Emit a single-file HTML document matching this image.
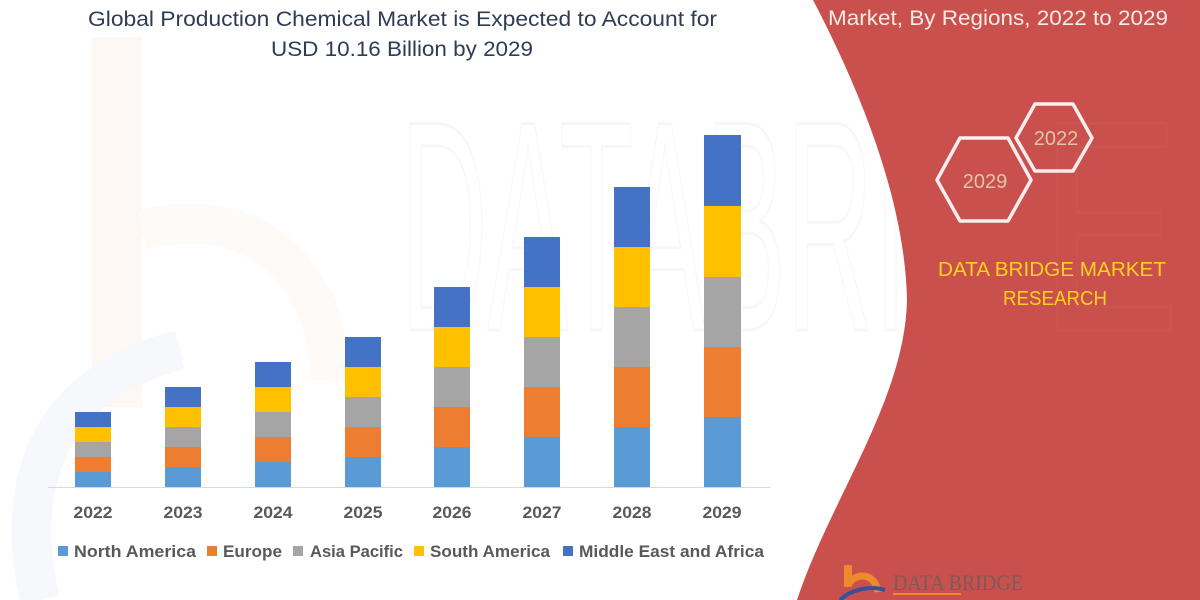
<!DOCTYPE html>
<html>
<head>
<meta charset="utf-8">
<style>
html,body{margin:0;padding:0;background:#fff;}
body{width:1200px;height:600px;overflow:hidden;}
svg{display:block;}
</style>
</head>
<body>
<svg width="1200" height="600" viewBox="0 0 1200 600" xmlns="http://www.w3.org/2000/svg">
  <rect x="0" y="0" width="1200" height="600" fill="#ffffff"/>
  <!-- faint watermarks -->
  <rect x="92" y="37" width="50" height="370" fill="#fef8f5"/>
  <path d="M142,230 C260,200 330,280 330,380" stroke="#fefaf8" stroke-width="40" fill="none"/>
  <path d="M40,600 C10,470 60,380 180,350" stroke="#f7f8fb" stroke-width="40" fill="none"/>
  <text x="400" y="330" font-family="Liberation Sans, sans-serif" font-size="300" fill="none" stroke="#f7f7f7" stroke-width="3" textLength="770" lengthAdjust="spacingAndGlyphs">DATABRIDGE</text>

  <!-- red panel -->
  <path d="M813,0 C860,90 905,200 907,300 C905,400 830,500 797,600 L1200,600 L1200,0 Z" fill="#c9504c"/>
  <text x="1040" y="330" font-family="Liberation Sans, sans-serif" font-size="300" fill="none" stroke="#cb5450" stroke-width="3" textLength="140" lengthAdjust="spacingAndGlyphs">E</text>

  <!-- title -->
  <text x="402.5" y="26" text-anchor="middle" font-family="Liberation Sans, sans-serif" font-size="21" fill="#2e3d55" textLength="629" lengthAdjust="spacingAndGlyphs">Global Production Chemical Market is Expected to Account for</text>
  <text x="402" y="56" text-anchor="middle" font-family="Liberation Sans, sans-serif" font-size="21" fill="#2e3d55" textLength="262" lengthAdjust="spacingAndGlyphs">USD 10.16 Billion by 2029</text>

  <!-- red panel text -->
  <text x="998" y="25" text-anchor="middle" font-family="Liberation Sans, sans-serif" font-size="21" fill="#f7ebe6" textLength="340" lengthAdjust="spacingAndGlyphs">Market, By Regions, 2022 to 2029</text>

  <!-- hexagons -->
  <polygon points="1016,138 1035,104 1073,104 1092,138 1073,171 1035,171" fill="none" stroke="#fbeeee" stroke-width="3.5" stroke-linejoin="round"/>
  <text x="1056" y="145" text-anchor="middle" font-family="Liberation Sans, sans-serif" font-size="20" fill="#dcc7a5">2022</text>
  <polygon points="937,180 960,138 1008,138 1031,180 1008,221 960,221" fill="none" stroke="#fbeeee" stroke-width="3.5" stroke-linejoin="round"/>
  <text x="985" y="188" text-anchor="middle" font-family="Liberation Sans, sans-serif" font-size="20" fill="#dcc7a5">2029</text>

  <text x="1052" y="276" text-anchor="middle" font-family="Liberation Sans, sans-serif" font-size="20" fill="#ffd21e" textLength="228" lengthAdjust="spacingAndGlyphs">DATA BRIDGE MARKET</text>
  <text x="1055" y="305" text-anchor="middle" font-family="Liberation Sans, sans-serif" font-size="20" fill="#ffd21e" textLength="104" lengthAdjust="spacingAndGlyphs">RESEARCH</text>

  <!-- bottom logo -->
  <rect x="844" y="565" width="8" height="22" fill="#ef8a2c"/>
  <path d="M848,585 C855,572 875,572 878,592" stroke="#ef8a2c" stroke-width="7" fill="none"/>
  <path d="M840,600 C850,590 870,585 885,590" stroke="#3a4f9a" stroke-width="4" fill="none"/>
  <text x="893" y="590" font-family="Liberation Serif, serif" font-size="22" fill="#7d5a58" textLength="130" lengthAdjust="spacingAndGlyphs">DATA BRIDGE</text>
  <rect x="893" y="593" width="68" height="2" fill="#ef8a2c"/>

  <!-- axis -->
  <line x1="48" y1="487.5" x2="770" y2="487.5" stroke="#d9d9d9" stroke-width="1"/>

  <!-- bars -->
  <g>
    <rect x="75" y="472" width="36" height="15" fill="#5b9bd5"/>
    <rect x="75" y="457" width="36" height="15" fill="#ed7d31"/>
    <rect x="75" y="442" width="36" height="15" fill="#a5a5a5"/>
    <rect x="75" y="427" width="36" height="15" fill="#ffc000"/>
    <rect x="75" y="412" width="36" height="15" fill="#4472c4"/>
    <rect x="165" y="467" width="36" height="20" fill="#5b9bd5"/>
    <rect x="165" y="447" width="36" height="20" fill="#ed7d31"/>
    <rect x="165" y="427" width="36" height="20" fill="#a5a5a5"/>
    <rect x="165" y="407" width="36" height="20" fill="#ffc000"/>
    <rect x="165" y="387" width="36" height="20" fill="#4472c4"/>
    <rect x="255" y="462" width="36" height="25" fill="#5b9bd5"/>
    <rect x="255" y="437" width="36" height="25" fill="#ed7d31"/>
    <rect x="255" y="412" width="36" height="25" fill="#a5a5a5"/>
    <rect x="255" y="387" width="36" height="25" fill="#ffc000"/>
    <rect x="255" y="362" width="36" height="25" fill="#4472c4"/>
    <rect x="345" y="457" width="36" height="30" fill="#5b9bd5"/>
    <rect x="345" y="427" width="36" height="30" fill="#ed7d31"/>
    <rect x="345" y="397" width="36" height="30" fill="#a5a5a5"/>
    <rect x="345" y="367" width="36" height="30" fill="#ffc000"/>
    <rect x="345" y="337" width="36" height="30" fill="#4472c4"/>
    <rect x="434" y="447" width="36" height="40" fill="#5b9bd5"/>
    <rect x="434" y="407" width="36" height="40" fill="#ed7d31"/>
    <rect x="434" y="367" width="36" height="40" fill="#a5a5a5"/>
    <rect x="434" y="327" width="36" height="40" fill="#ffc000"/>
    <rect x="434" y="287" width="36" height="40" fill="#4472c4"/>
    <rect x="524" y="437" width="36" height="50" fill="#5b9bd5"/>
    <rect x="524" y="387" width="36" height="50" fill="#ed7d31"/>
    <rect x="524" y="337" width="36" height="50" fill="#a5a5a5"/>
    <rect x="524" y="287" width="36" height="50" fill="#ffc000"/>
    <rect x="524" y="237" width="36" height="50" fill="#4472c4"/>
    <rect x="614" y="427" width="36" height="60" fill="#5b9bd5"/>
    <rect x="614" y="367" width="36" height="60" fill="#ed7d31"/>
    <rect x="614" y="307" width="36" height="60" fill="#a5a5a5"/>
    <rect x="614" y="247" width="36" height="60" fill="#ffc000"/>
    <rect x="614" y="187" width="36" height="60" fill="#4472c4"/>
    <rect x="704" y="417" width="37" height="70" fill="#5b9bd5"/>
    <rect x="704" y="347" width="37" height="70" fill="#ed7d31"/>
    <rect x="704" y="277" width="37" height="70" fill="#a5a5a5"/>
    <rect x="704" y="206" width="37" height="71" fill="#ffc000"/>
    <rect x="704" y="135" width="37" height="71" fill="#4472c4"/>
  </g>

  <!-- x labels -->
  <g font-family="Liberation Sans, sans-serif" font-weight="bold" font-size="17" fill="#595959" text-anchor="middle">
    <text x="93" y="518" textLength="39" lengthAdjust="spacingAndGlyphs">2022</text>
    <text x="183" y="518" textLength="39" lengthAdjust="spacingAndGlyphs">2023</text>
    <text x="273" y="518" textLength="39" lengthAdjust="spacingAndGlyphs">2024</text>
    <text x="363" y="518" textLength="39" lengthAdjust="spacingAndGlyphs">2025</text>
    <text x="452" y="518" textLength="39" lengthAdjust="spacingAndGlyphs">2026</text>
    <text x="542" y="518" textLength="39" lengthAdjust="spacingAndGlyphs">2027</text>
    <text x="632" y="518" textLength="39" lengthAdjust="spacingAndGlyphs">2028</text>
    <text x="722" y="518" textLength="39" lengthAdjust="spacingAndGlyphs">2029</text>
  </g>

  <!-- legend -->
  <g font-family="Liberation Sans, sans-serif" font-weight="bold" font-size="17" fill="#595959">
    <rect x="58" y="546" width="10" height="10" fill="#5b9bd5"/>
    <text x="74" y="557" textLength="122" lengthAdjust="spacingAndGlyphs">North America</text>
    <rect x="207" y="546" width="10" height="10" fill="#ed7d31"/>
    <text x="223" y="557" textLength="59" lengthAdjust="spacingAndGlyphs">Europe</text>
    <rect x="293" y="546" width="10" height="10" fill="#a5a5a5"/>
    <text x="310" y="557" textLength="93" lengthAdjust="spacingAndGlyphs">Asia Pacific</text>
    <rect x="414" y="546" width="10" height="10" fill="#ffc000"/>
    <text x="430" y="557" textLength="120" lengthAdjust="spacingAndGlyphs">South America</text>
    <rect x="563" y="546" width="10" height="10" fill="#4472c4"/>
    <text x="579" y="557" textLength="185" lengthAdjust="spacingAndGlyphs">Middle East and Africa</text>
  </g>
</svg>
</body>
</html>
